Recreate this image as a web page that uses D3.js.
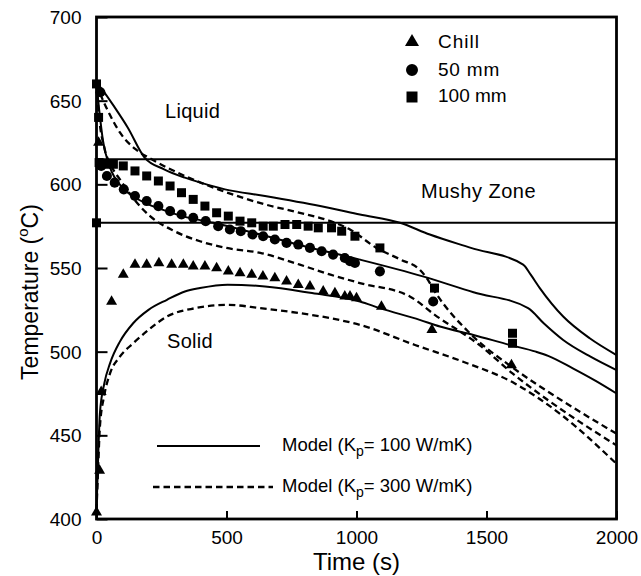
<!DOCTYPE html>
<html><head><meta charset="utf-8">
<script src="https://cdn.jsdelivr.net/npm/d3@7"></script>
<style>
html,body{margin:0;padding:0;background:#fff;}
svg{display:block;font-family:"Liberation Sans",Arial,Helvetica,sans-serif;}
</style></head>
<body>
<svg id="chart" width="641" height="576"></svg>
<script>
// ---------- data ----------
const xTicks = [0, 500, 1000, 1500, 2000];
const yTicks = [400, 450, 500, 550, 600, 650, 700];
const liquidus = 615;
const solidus = 577;

// Model curves, Kp = 100 W/mK (solid) : [time s, temperature C]
const model100_100mm = [[0,661],[30,655],[70,646],[120,634],[185,616],[260,609],[340,604],[400,601],[494,597],[648,593],[860,587],[1013,582],[1167,577],[1282,570],[1440,562],[1641,552],[1670,546],[1705,538],[1795,521],[1897,508],[2000,498]];
const model100_50mm = [[0,660],[10,645],[25,626],[50,611],[100,598],[150,592],[200,588],[270,584],[330,581],[450,577],[630,570],[800,563],[1013,555],[1255,545],[1450,535.5],[1660,526],[1720,517],[1795,507],[1900,497],[2000,489]];
const model100_chill = [[0,405],[5,430],[13,463],[30,481],[52,493],[90,506],[141,517],[200,525],[271,531],[340,536],[398,538],[504,540],[648,539],[829,535],[1013,530],[1090,526],[1243,519],[1321,515],[1450,510],[1590,504],[1690,500],[1737,497.5],[1832,490],[1920,482.5],[2000,475]];

// Model curves, Kp = 300 W/mK (dashed)
const model300_100mm = [[0,660],[20,652],[50,642],[90,631],[150,621],[212,615],[340,605],[468,597],[648,588],[782,583],[900,578],[975,573],[1077,562],[1170,555],[1243,549],[1270,544],[1301,536],[1436,511],[1596,491],[1788,471],[2000,451]];
const model300_50mm = [[0,660],[10,640],[30,622],[60,610],[90,603],[150,590],[206,581],[300,572],[398,566],[500,562],[630,559],[782,552],[900,546],[1013,541],[1205,533],[1301,522],[1481,503],[1600,487],[1737,471],[2000,444]];
const model300_chill = [[0,405],[5,425],[13,455],[30,474],[52,487],[90,497],[141,505],[200,513],[271,521],[380,526],[504,528],[630,526],[782,523],[900,520],[1013,516],[1225,504],[1410,494],[1609,481],[1790,462],[2000,433]];

// Measured data
const chill = [[0,404],[8,625],[12,429],[18,476],[58,530],[103,546],[148,552],[193,552],[240,553],[289,552],[334,552],[372,551],[417,551],[462,550],[507,548],[552,547],[597,546],[640,545],[686,544],[731,542],[776,540],[821,539],[872,536],[917,535],[955,533],[975,533],[1000,532],[1096,527],[1290,513],[1596,492]];
const mm50 = [[15,655],[18,611],[40,605],[70,601],[105,597],[148,593],[193,590],[238,587],[283,584],[327,582],[372,580],[420,578],[468,575],[513,573],[555,572],[600,570],[641,569],[686,567],[731,565],[776,564],[821,562],[866,560],[910,558],[955,556],[975,554],[994,553],[1090,548],[1295,530]];
const mm100 = [[0,660],[8,640],[10,613],[0,577],[35,612],[65,612],[103,611],[148,608],[193,605],[238,602],[283,599],[327,595],[372,591],[417,587],[462,583],[507,581],[552,578],[597,577],[641,575],[680,575],[725,576],[770,576],[814,575],[853,574],[904,574],[943,572],[994,569],[1090,562],[1300,538],[1600,511],[1600,505]];

// ---------- chart ----------
const svg = d3.select("#chart");
const x = d3.scaleLinear().domain([0, 2000]).range([96.5, 616.5]);
const y = d3.scaleLinear().domain([400, 700]).range([519, 17]);

const line = d3.line().x(d => x(d[0])).y(d => y(d[1])).curve(d3.curveMonotoneX);

// zone boundaries
[liquidus, solidus].forEach(v => {
  svg.append("line").attr("x1", x(0)).attr("x2", x(2000))
    .attr("y1", y(v)).attr("y2", y(v))
    .attr("stroke", "#000").attr("stroke-width", 2);
});

// model curves
[model100_100mm, model100_50mm, model100_chill].forEach(s => {
  svg.append("path").datum(s).attr("d", line)
    .attr("fill", "none").attr("stroke", "#000").attr("stroke-width", 2);
});
[model300_100mm, model300_50mm, model300_chill].forEach(s => {
  svg.append("path").datum(s).attr("d", line)
    .attr("fill", "none").attr("stroke", "#000").attr("stroke-width", 2.3)
    .attr("stroke-dasharray", "6.5,4");
});

// markers
const triSym = d3.symbol(d3.symbolTriangle, 52);
const cirSym = d3.symbol(d3.symbolCircle, 80);
const sqSym = d3.symbol(d3.symbolSquare, 81);
function markers(data, sym) {
  svg.append("g").selectAll("path").data(data).join("path")
    .attr("d", sym)
    .attr("transform", d => `translate(${x(d[0])},${y(d[1])})`)
    .attr("fill", "#000");
}
markers(mm100, sqSym);
markers(mm50, cirSym);
markers(chill, triSym);

// frame
svg.append("rect").attr("x", x(0)).attr("y", y(700))
  .attr("width", x(2000) - x(0)).attr("height", y(400) - y(700))
  .attr("fill", "none").attr("stroke", "#000").attr("stroke-width", 2.8);

// axes (ticks inward)
const yAxis = d3.axisLeft(y).tickValues(yTicks).tickSize(-11).tickPadding(15).tickFormat(d3.format("d"));
const gy = svg.append("g").attr("transform", `translate(${x(0)},0)`).call(yAxis);
gy.select(".domain").remove();
gy.selectAll(".tick line").attr("stroke-width", 2);
gy.selectAll("text").attr("font-size", 19).attr("font-family", "Liberation Sans, Arial, sans-serif").attr("fill", "#000").attr("dy", "0.35em");

const xAxis = d3.axisBottom(x).tickValues(xTicks).tickSize(-8).tickPadding(12).tickFormat(d3.format("d"));
const gx = svg.append("g").attr("transform", `translate(0,${y(400)})`).call(xAxis);
gx.select(".domain").remove();
gx.selectAll(".tick line").attr("stroke-width", 2);
gx.selectAll("text").attr("font-size", 19).attr("font-family", "Liberation Sans, Arial, sans-serif").attr("fill", "#000");

// axis titles
svg.append("text").attr("x", x(1000)).attr("y", 570).attr("text-anchor", "middle")
  .attr("font-size", 24).text("Time (s)");
const yt = svg.append("text").attr("transform", "translate(38,292) rotate(-90)")
  .attr("text-anchor", "middle").attr("font-size", 23);
yt.append("tspan").text("Temperature (");
yt.append("tspan").attr("font-size", 15).attr("dy", -10).text("o");
yt.append("tspan").attr("dy", 10).text("C)");

// region labels
svg.append("text").attr("x", 165).attr("y", 118).attr("font-size", 20).attr("letter-spacing", 0.3).text("Liquid");
svg.append("text").attr("x", 421).attr("y", 198).attr("font-size", 20).attr("letter-spacing", 0.5).text("Mushy Zone");
svg.append("text").attr("x", 167).attr("y", 348).attr("font-size", 20).attr("letter-spacing", 0.3).text("Solid");

// legend (markers)
const legend = [["Chill", d3.symbolTriangle, 85, 42, 48, 1], ["50 mm", d3.symbolCircle, 113, 70, 76, 0.8], ["100 mm", d3.symbolSquare, 121, 97, 102, 0]];
legend.forEach(([label, type, area, cy, by, ls]) => {
  svg.append("path").attr("d", d3.symbol(type, area)).attr("transform", `translate(412,${cy})`).attr("fill", "#000");
  svg.append("text").attr("x", 438).attr("y", by).attr("font-size", 19).attr("letter-spacing", ls).text(label);
});

// legend (lines)
function modelLabel(yBase, val) {
  const t = svg.append("text").attr("x", 282).attr("y", yBase).attr("font-size", 18.5);
  t.append("tspan").text("Model (K");
  t.append("tspan").attr("font-size", 14).attr("dy", 5).text("p");
  t.append("tspan").attr("dy", -5).text(`= ${val} W/mK)`);
}
svg.append("line").attr("x1", 157).attr("x2", 260).attr("y1", 446).attr("y2", 446)
  .attr("stroke", "#000").attr("stroke-width", 2);
modelLabel(451, 100);
svg.append("line").attr("x1", 153).attr("x2", 273).attr("y1", 487).attr("y2", 487)
  .attr("stroke", "#000").attr("stroke-width", 2.3).attr("stroke-dasharray", "6.5,4");
modelLabel(492, 300);
</script>
</body></html>
